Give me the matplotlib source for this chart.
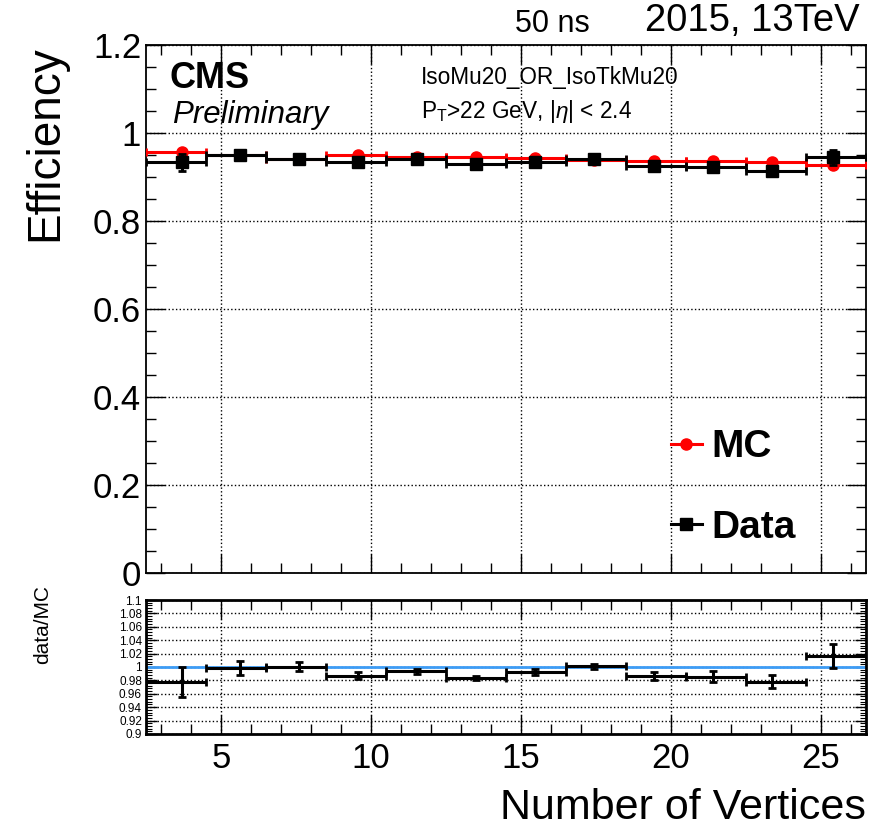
import matplotlib.pyplot as plt
from matplotlib.lines import Line2D
from matplotlib.ticker import MultipleLocator

plt.rcParams['font.family'] = ['Liberation Sans', 'DejaVu Sans']
plt.rcParams['mathtext.fontset'] = 'custom'
plt.rcParams['mathtext.rm'] = 'Liberation Sans'
plt.rcParams['mathtext.it'] = 'Liberation Sans:italic'

# bins of width 2 in number of vertices
bin_lo = [2.5, 4.5, 6.5, 8.5, 10.5, 12.5, 14.5, 16.5, 18.5, 20.5, 22.5, 24.5]
bin_hi = [4.5, 6.5, 8.5, 10.5, 12.5, 14.5, 16.5, 18.5, 20.5, 22.5, 24.5, 26.5]
# mean of each bin (where the points sit)
nvtx = [3.70, 5.63, 7.59, 9.56, 11.52, 13.50, 15.47, 17.43, 19.44, 21.41, 23.37, 25.39]

eff_mc = [0.956, 0.951, 0.942, 0.949, 0.946, 0.945, 0.943, 0.939, 0.937, 0.936, 0.934, 0.928]
eff_data = [0.933, 0.949, 0.942, 0.935, 0.940, 0.929, 0.935, 0.940, 0.924, 0.922, 0.913, 0.945]
err_data = [0.020, 0.009, 0.006, 0.005, 0.004, 0.003, 0.004, 0.004, 0.006, 0.008, 0.010, 0.017]

ratio = [0.9775, 0.9985, 1.0005, 0.987, 0.9935, 0.984, 0.9925, 1.001, 0.986, 0.9855, 0.978, 1.0165]
err_ratio = [0.022, 0.010, 0.007, 0.005, 0.004, 0.003, 0.004, 0.004, 0.006, 0.008, 0.010, 0.018]

xlo = [x - lo for x, lo in zip(nvtx, bin_lo)]
xhi = [hi - x for x, hi in zip(nvtx, bin_hi)]

fig = plt.figure(figsize=(8.8, 8.3), dpi=100)
ax = fig.add_axes([0.166, 0.3096, 0.818, 0.6362])
ax2 = fig.add_axes([0.166, 0.1157, 0.818, 0.1614])

# main panel
ax.errorbar(nvtx, eff_mc, xerr=[xlo, xhi], fmt='o', color='red', ms=8,
            elinewidth=2.2, capsize=3, capthick=2, zorder=3)
ax.errorbar(nvtx, eff_data, yerr=err_data, xerr=[xlo, xhi], fmt='s', color='black',
            ms=8, elinewidth=2.2, capsize=3, capthick=2, zorder=4)

ax.set_xlim(2.5, 26.5)
ax.set_ylim(0, 1.2)
ax.xaxis.set_major_locator(MultipleLocator(5))
ax.xaxis.set_minor_locator(MultipleLocator(1))
ax.yaxis.set_minor_locator(MultipleLocator(0.05))
ax.set_yticks([0, 0.2, 0.4, 0.6, 0.8, 1.0, 1.2])
ax.set_yticklabels(['0', '0.2', '0.4', '0.6', '0.8', '1', '1.2'])
ax.tick_params(axis='both', which='both', direction='in', top=True, right=True)
ax.tick_params(which='major', length=14, width=1, labelsize=25)
ax.tick_params(which='minor', length=7, width=1)
ax.tick_params(axis='x', labelbottom=False)
ax.grid(True, which='major', linestyle=':', color='black', linewidth=1)
ax.set_ylabel('Efficiency', fontsize=33, loc='top')
ax.yaxis.set_label_coords(-0.11, 1.0)
for s in ax.spines.values():
    s.set_linewidth(1.3)

ax.text(0.033, 0.97, 'CMS', transform=ax.transAxes, fontsize=26, fontweight='bold', va='top')
ax.text(0.036, 0.895, 'Preliminary', transform=ax.transAxes, fontsize=22.5, style='italic', va='top')
ax.text(0.382, 0.96, 'IsoMu20_OR_IsoTkMu20', transform=ax.transAxes, fontsize=16.3, va='top')
ax.text(0.382, 0.9, r'P$_{\mathrm{T}}$>22 GeV, |$\eta$| < 2.4', transform=ax.transAxes,
        fontsize=16.3, va='top')
fig.text(0.585, 0.953, '50 ns', fontsize=22, va='bottom')
fig.text(0.977, 0.953, '2015, 13TeV', fontsize=27.5, va='bottom', ha='right')

handles = [Line2D([], [], color='red', marker='o', ms=8, lw=2.2),
           Line2D([], [], color='black', marker='s', ms=8, lw=2.2)]
ax.legend(handles, ['MC', 'Data'], loc='lower left', bbox_to_anchor=(0.68, -0.015),
          frameon=False, prop={'size': 28, 'weight': 'bold'}, handlelength=0.8,
          handletextpad=0.25, labelspacing=1.15)

# ratio panel
ax2.axhline(1.0, color='#3d9cf5', linewidth=2, zorder=2)
ax2.errorbar(nvtx, ratio, yerr=err_ratio, xerr=[xlo, xhi], fmt='none', ecolor='black',
             elinewidth=2.2, capsize=3, capthick=2, zorder=3)
ax2.set_xlim(2.5, 26.5)
ax2.set_ylim(0.9, 1.1)
ax2.xaxis.set_major_locator(MultipleLocator(5))
ax2.xaxis.set_minor_locator(MultipleLocator(1))
yt = [0.9, 0.92, 0.94, 0.96, 0.98, 1.0, 1.02, 1.04, 1.06, 1.08, 1.1]
ax2.set_yticks(yt)
ax2.set_yticklabels(['0.9', '0.92', '0.94', '0.96', '0.98', '1', '1.02', '1.04', '1.06', '1.08', '1.1'])
ax2.yaxis.set_minor_locator(MultipleLocator(0.004))
ax2.tick_params(axis='both', which='both', direction='in', top=True, right=True)
ax2.tick_params(axis='x', which='major', length=14, width=1, labelsize=25, pad=6)
ax2.tick_params(axis='x', which='minor', length=7, width=1)
ax2.tick_params(axis='y', which='major', length=8, width=1, labelsize=8.5, pad=3)
ax2.tick_params(axis='y', which='minor', length=4, width=0.8)
ax2.grid(True, which='major', linestyle=':', color='black', linewidth=1)
ax2.set_ylabel('data/MC', fontsize=15)
ax2.yaxis.set_label_coords(-0.13, 0.82)
ax2.set_xlabel('Number of Vertices', fontsize=31, loc='right', labelpad=9)
for s in ax2.spines.values():
    s.set_linewidth(2)

fig.savefig('out.png', dpi=100)
